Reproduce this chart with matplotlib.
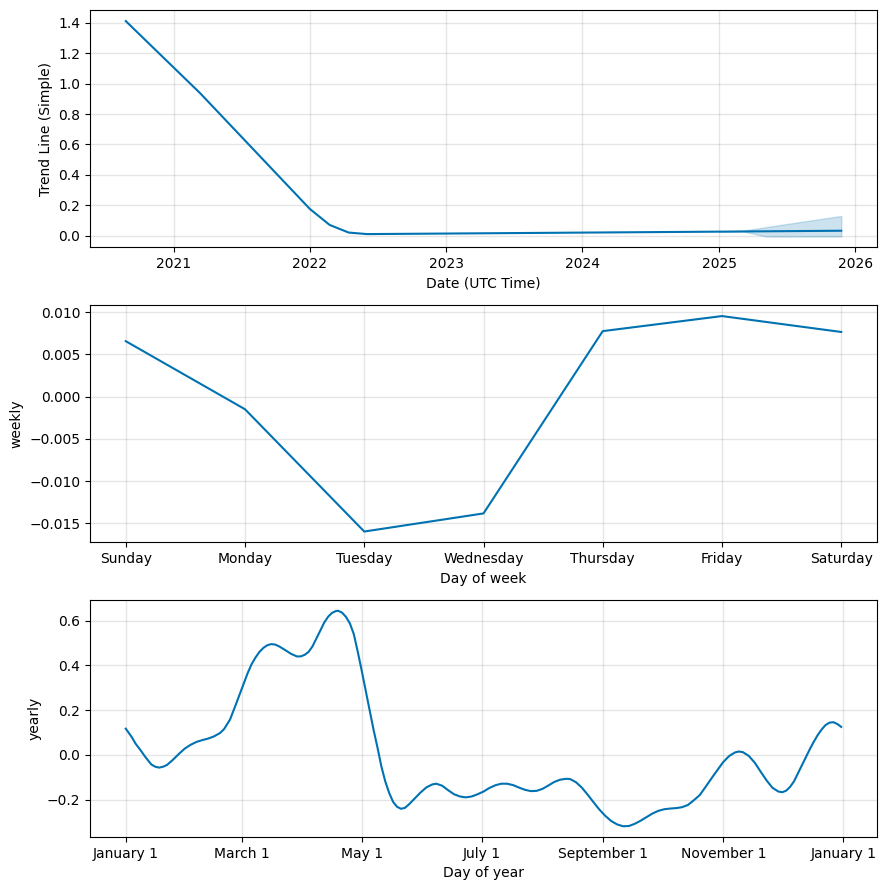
import matplotlib
matplotlib.use("Agg")
import matplotlib.pyplot as plt
import matplotlib.dates as mdates
import pandas as pd

# ---- Trend data ----
trend_dates = ["2020-08-26", "2021-03-13", "2022-01-01", "2022-02-23",
               "2022-04-15", "2022-06-03", "2025-01-01", "2025-11-24"]
trend_values = [1.410, 0.937, 0.177, 0.072, 0.022, 0.012, 0.028, 0.034]

band_dates = ["2025-01-01", "2025-03-07", "2025-05-08", "2025-06-14", "2025-11-24"]
band_lower = [0.028, 0.029, -0.004, -0.004, -0.004]
band_upper = [0.028, 0.035, 0.058, 0.072, 0.131]

# ---- Weekly data ----
weekdays = ["Sunday", "Monday", "Tuesday", "Wednesday", "Thursday", "Friday", "Saturday"]
weekly_values = [0.00656, -0.00149, -0.01595, -0.01381, 0.00775, 0.00953, 0.00765]

# ---- Yearly data (day of year from Jan 1) ----
yearly_days = [0, 3, 5, 8, 10, 13, 15, 17, 19, 21, 24, 27, 30, 33, 36, 39, 42, 45, 48,
               50, 53, 56, 59, 62, 64, 66, 68, 70, 72, 74, 76, 78, 81, 84, 87, 89, 91,
               93, 95, 97, 99, 101, 103, 105, 107, 108, 110, 112, 114, 116, 118, 120,
               122, 124, 126, 128, 130, 132, 134, 136, 138, 140, 142, 144, 147, 150,
               153, 156, 158, 161, 164, 167, 170, 173, 176, 179, 182, 185, 188, 191,
               194, 197, 200, 203, 206, 209, 212, 215, 218, 221, 224, 226, 229, 232,
               235, 238, 241, 244, 247, 250, 253, 256, 259, 262, 265, 268, 271, 274,
               277, 280, 283, 286, 289, 292, 295, 298, 301, 304, 307, 310, 312, 314,
               317, 320, 323, 326, 329, 332, 334, 336, 338, 340, 342, 344, 346, 348,
               350, 352, 354, 356, 358, 360, 362, 364]
yearly_values = [0.117, 0.080, 0.050, 0.015, -0.010, -0.043, -0.053, -0.057, -0.053,
                 -0.045, -0.022, 0.004, 0.028, 0.045, 0.058, 0.066, 0.073, 0.083, 0.098,
                 0.115, 0.157, 0.225, 0.295, 0.365, 0.405, 0.435, 0.460, 0.478, 0.490,
                 0.495, 0.493, 0.485, 0.469, 0.452, 0.440, 0.440, 0.447, 0.460, 0.485,
                 0.520, 0.556, 0.592, 0.618, 0.635, 0.643, 0.644, 0.636, 0.617, 0.588,
                 0.540, 0.462, 0.378, 0.290, 0.200, 0.115, 0.035, -0.050, -0.118, -0.170,
                 -0.210, -0.232, -0.241, -0.237, -0.222, -0.195, -0.168, -0.145, -0.132,
                 -0.129, -0.138, -0.158, -0.176, -0.186, -0.190, -0.186, -0.176, -0.164,
                 -0.148, -0.136, -0.129, -0.129, -0.135, -0.146, -0.156, -0.162, -0.161,
                 -0.152, -0.137, -0.121, -0.111, -0.107, -0.108, -0.122, -0.146, -0.178,
                 -0.212, -0.245, -0.273, -0.296, -0.311, -0.319, -0.318, -0.308, -0.294,
                 -0.278, -0.262, -0.250, -0.243, -0.240, -0.238, -0.234, -0.224, -0.203,
                 -0.180, -0.143, -0.105, -0.068, -0.032, -0.005, 0.011, 0.015, 0.012,
                 -0.005, -0.035, -0.075, -0.114, -0.147, -0.164, -0.167, -0.160, -0.143,
                 -0.118, -0.082, -0.045, -0.010, 0.025, 0.058, 0.088, 0.113, 0.133, 0.144,
                 0.146, 0.138, 0.125]

color = "#0072B2"

fig = plt.figure(figsize=(8.86, 8.90), dpi=100)
W, H = 886.0, 890.0
left = 90 / W
width = (877 - 90) / W
height = 237 / H
ax1 = fig.add_axes([left, 1 - 247.3 / H, width, height])
ax2 = fig.add_axes([left, 1 - 542.3 / H, width, height])
ax3 = fig.add_axes([left, 1 - 837.0 / H, width, height])

def style(ax):
    ax.grid(True, which="major", c="gray", ls="-", lw=1, alpha=0.2)
    ax.set_axisbelow(True)

# Trend
td = pd.to_datetime(trend_dates)
ax1.plot(td, trend_values, ls="-", c=color)
bd = pd.to_datetime(band_dates)
ax1.fill_between(bd, band_lower, band_upper, color=color, alpha=0.2)
ax1.xaxis.set_major_locator(mdates.YearLocator())
ax1.xaxis.set_major_formatter(mdates.DateFormatter("%Y"))
ax1.set_xlabel("Date (UTC Time)")
ax1.set_ylabel("Trend Line (Simple)")
style(ax1)

# Weekly
ax2.plot(range(len(weekdays)), weekly_values, ls="-", c=color)
ax2.set_xticks(range(len(weekdays)))
ax2.set_xticklabels(weekdays)
ax2.set_xlabel("Day of week")
ax2.set_ylabel("weekly")
style(ax2)

# Yearly
ydates = pd.Timestamp("2017-01-01") + pd.to_timedelta(yearly_days, unit="D")
ax3.plot(ydates, yearly_values, ls="-", c=color)
ax3.xaxis.set_major_locator(mdates.MonthLocator(bymonth=[1, 3, 5, 7, 9, 11]))
ax3.xaxis.set_major_formatter(mdates.DateFormatter("%B %-d"))
ax3.set_xlabel("Day of year")
ax3.set_ylabel("yearly")
style(ax3)

fig.savefig("out.png", dpi=100)
